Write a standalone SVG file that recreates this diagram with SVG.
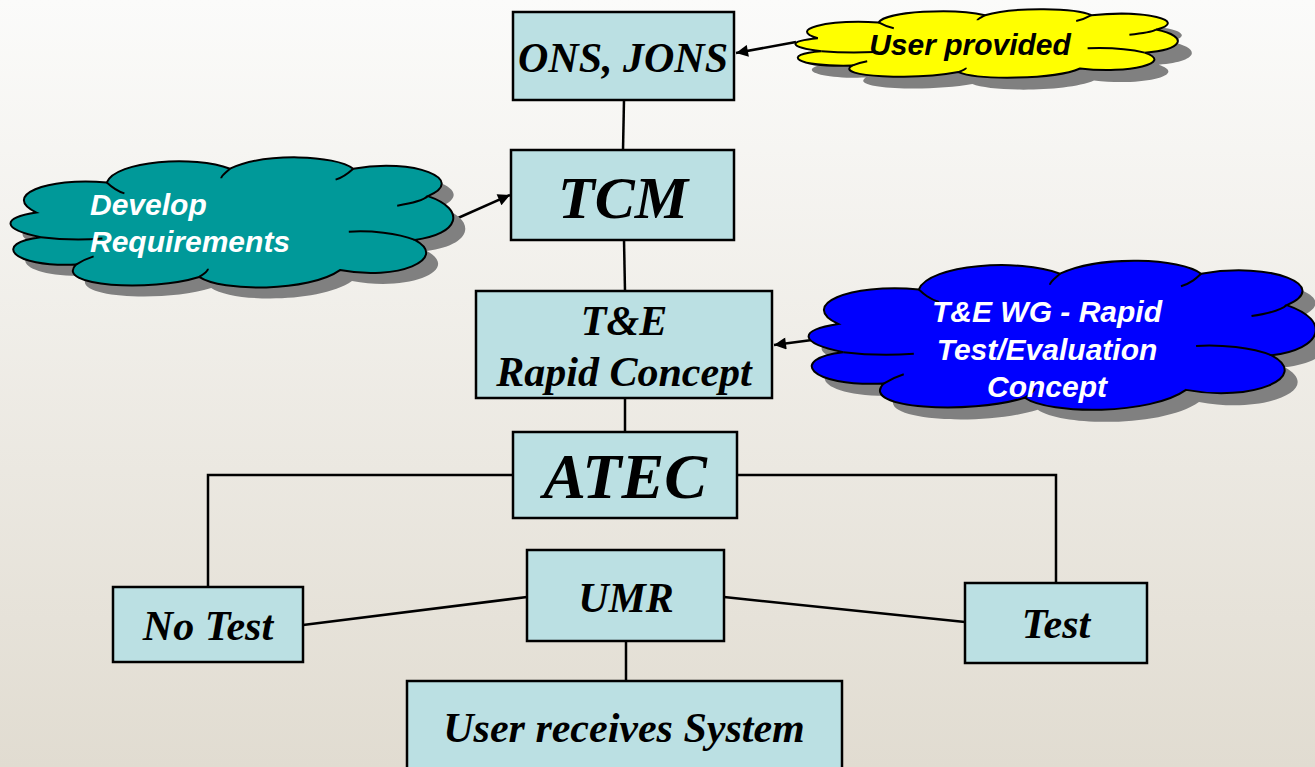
<svg xmlns="http://www.w3.org/2000/svg" width="1315" height="767" viewBox="0 0 1315 767">
<defs>
<linearGradient id="bg" x1="0" y1="0" x2="0" y2="1">
<stop offset="0" stop-color="#FBFBFA"/>
<stop offset="1" stop-color="#E1DCD1"/>
</linearGradient>
<marker id="arr" viewBox="0 0 10 10" refX="10" refY="5" markerWidth="15" markerHeight="12" markerUnits="userSpaceOnUse" orient="auto">
<path d="M0,0 L10,5 L0,10 Z" fill="#000"/>
</marker>
</defs>
<style>
.box{fill:#BBE0E3;stroke:#000;stroke-width:2.5}
.bt{font-family:"Liberation Serif","Times New Roman",serif;font-weight:bold;font-style:italic;fill:#000;text-anchor:middle}
.ct{font-family:"Liberation Sans",Arial,sans-serif;font-weight:bold;font-style:italic;font-size:30px}
.shadow{fill:#808080;stroke:none}
.cl{stroke:#000;stroke-width:2;vector-effect:non-scaling-stroke}
.inner{fill:none;stroke:#000;stroke-width:2;vector-effect:non-scaling-stroke}
.con{stroke:#000;stroke-width:2.5;fill:none}
.arrow{stroke:#000;stroke-width:2.5;fill:none;marker-end:url(#arr)}
</style>
<rect x="0" y="0" width="1315" height="767" fill="url(#bg)"/>

<g id="connectors">
<line class="con" x1="624" y1="100" x2="623" y2="150"/>
<line class="con" x1="624" y1="240" x2="625" y2="291"/>
<line class="con" x1="625" y1="398" x2="625" y2="432"/>
<polyline class="con" points="513,475 208,475 208,587"/>
<polyline class="con" points="737,475 1056,475 1056,583"/>
<line class="con" x1="527" y1="597" x2="303" y2="625"/>
<line class="con" x1="724" y1="597" x2="965" y2="622"/>
<line class="con" x1="626" y1="641" x2="626" y2="681"/>
<line class="arrow" x1="796" y1="42" x2="736" y2="53"/>
<line class="arrow" x1="449" y1="222" x2="510" y2="195"/>
<line class="arrow" x1="812" y1="340" x2="774" y2="345"/>
</g>

<g id="cloud-user">
<path class="shadow" transform="translate(809,20) scale(3.8,0.72)" d="M 6,42 C -2,30 8,16 22,20 C 24,4 42,0 50,10 C 58,-2 74,0 78,10 C 92,2 104,18 95,30 C 104,40 102,58 92,62 C 100,76 88,92 75,84 C 68,100 48,100 43,89 C 32,100 10,96 15,80 C 0,82 -4,64 7,60 C -2,54 -2,46 6,42 Z"/>
<path class="cl" fill="#FFFF00" transform="translate(795,8) scale(3.8,0.72)" d="M 6,42 C -2,30 8,16 22,20 C 24,4 42,0 50,10 C 58,-2 74,0 78,10 C 92,2 104,18 95,30 C 104,40 102,58 92,62 C 100,76 88,92 75,84 C 68,100 48,100 43,89 C 32,100 10,96 15,80 C 0,82 -4,64 7,60 C -2,54 -2,46 6,42 Z"/>
<path class="inner" transform="translate(795,8) scale(3.8,0.72)" d="M 7,60 C 12,62 17,62 21,61 M 15,80 C 16,78 17,76 19,74 M 22,20 C 23,23 24,26 26,28 M 50,10 C 49,13 48,15 48,17 M 78,10 C 77,13 76,16 74,18 M 95,30 C 94,33 92,35 88,37 M 92,62 C 88,57 82,55 77,56 M 43,89 C 44,87 45,85 45,83"/>
<text class="ct" x="970" y="55" text-anchor="middle" fill="#000">User provided</text>
</g>

<g id="cloud-develop">
<path class="shadow" transform="translate(22,166) scale(4.4,1.37)" d="M 6,42 C -2,30 8,16 22,20 C 24,4 42,0 50,10 C 58,-2 74,0 78,10 C 92,2 104,18 95,30 C 104,40 102,58 92,62 C 100,76 88,92 75,84 C 68,100 48,100 43,89 C 32,100 10,96 15,80 C 0,82 -4,64 7,60 C -2,54 -2,46 6,42 Z"/>
<path class="cl" fill="#009999" transform="translate(10,155) scale(4.4,1.37)" d="M 6,42 C -2,30 8,16 22,20 C 24,4 42,0 50,10 C 58,-2 74,0 78,10 C 92,2 104,18 95,30 C 104,40 102,58 92,62 C 100,76 88,92 75,84 C 68,100 48,100 43,89 C 32,100 10,96 15,80 C 0,82 -4,64 7,60 C -2,54 -2,46 6,42 Z"/>
<path class="inner" transform="translate(10,155) scale(4.4,1.37)" d="M 7,60 C 12,62 17,62 21,61 M 15,80 C 16,78 17,76 19,74 M 22,20 C 23,23 24,26 26,28 M 50,10 C 49,13 48,15 48,17 M 78,10 C 77,13 76,16 74,18 M 95,30 C 94,33 92,35 88,37 M 92,62 C 88,57 82,55 77,56 M 43,89 C 44,87 45,85 45,83"/>
<text class="ct" x="90" y="215" fill="#FFFFFF">Develop</text>
<text class="ct" x="90" y="252" fill="#FFFFFF">Requirements</text>
</g>

<g id="cloud-te">
<path class="shadow" transform="translate(821,270) scale(5.04,1.57)" d="M 6,42 C -2,30 8,16 22,20 C 24,4 42,0 50,10 C 58,-2 74,0 78,10 C 92,2 104,18 95,30 C 104,40 102,58 92,62 C 100,76 88,92 75,84 C 68,100 48,100 43,89 C 32,100 10,96 15,80 C 0,82 -4,64 7,60 C -2,54 -2,46 6,42 Z"/>
<path class="cl" fill="#0000FF" transform="translate(808,258) scale(5.04,1.57)" d="M 6,42 C -2,30 8,16 22,20 C 24,4 42,0 50,10 C 58,-2 74,0 78,10 C 92,2 104,18 95,30 C 104,40 102,58 92,62 C 100,76 88,92 75,84 C 68,100 48,100 43,89 C 32,100 10,96 15,80 C 0,82 -4,64 7,60 C -2,54 -2,46 6,42 Z"/>
<path class="inner" transform="translate(808,258) scale(5.04,1.57)" d="M 7,60 C 12,62 17,62 21,61 M 15,80 C 16,78 17,76 19,74 M 22,20 C 23,23 24,26 26,28 M 50,10 C 49,13 48,15 48,17 M 78,10 C 77,13 76,16 74,18 M 95,30 C 94,33 92,35 88,37 M 92,62 C 88,57 82,55 77,56 M 43,89 C 44,87 45,85 45,83"/>
<text class="ct" x="1047" y="322" text-anchor="middle" fill="#FFFFFF">T&amp;E WG - Rapid</text>
<text class="ct" x="1047" y="360" text-anchor="middle" fill="#FFFFFF">Test/Evaluation</text>
<text class="ct" x="1047" y="397" text-anchor="middle" fill="#FFFFFF">Concept</text>
</g>

<g id="node-ons">
<rect class="box" x="513" y="12" width="221" height="88"/>
<text class="bt" x="623" y="72" font-size="42">ONS, JONS</text>
</g>

<g id="node-tcm">
<rect class="box" x="511" y="150" width="223" height="90"/>
<text class="bt" x="623" y="218" font-size="60">TCM</text>
</g>

<g id="node-te">
<rect class="box" x="476" y="291" width="296" height="107"/>
<text class="bt" x="624" y="335" font-size="42">T&amp;E</text>
<text class="bt" x="624" y="386" font-size="42">Rapid Concept</text>
</g>

<g id="node-atec">
<rect class="box" x="513" y="432" width="224" height="86"/>
<text class="bt" x="625" y="498" font-size="64">ATEC</text>
</g>

<g id="node-umr">
<rect class="box" x="527" y="550" width="197" height="91"/>
<text class="bt" x="626" y="612" font-size="42">UMR</text>
</g>

<g id="node-notest">
<rect class="box" x="113" y="587" width="190" height="75"/>
<text class="bt" x="208" y="640" font-size="42">No Test</text>
</g>

<g id="node-test">
<rect class="box" x="965" y="583" width="182" height="80"/>
<text class="bt" x="1056" y="638" font-size="42">Test</text>
</g>

<g id="node-user">
<rect class="box" x="407" y="681" width="435" height="100"/>
<text class="bt" x="624" y="742" font-size="42">User receives System</text>
</g>
</svg>
